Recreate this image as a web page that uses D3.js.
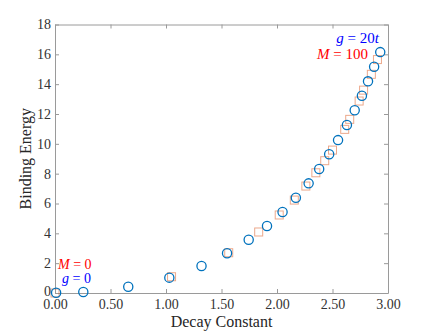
<!DOCTYPE html>
<html><head><meta charset="utf-8">
<script src="https://cdn.jsdelivr.net/npm/d3@7"></script>
<style>body{margin:0;background:#fff}svg{display:block}</style>
</head><body><svg id="c" width="429" height="332"></svg>
<script>
const circleX = [0.01,0.255,0.66,1.03,1.32,1.55,1.745,1.91,2.05,2.17,2.285,2.38,2.47,2.55,2.63,2.70,2.765,2.82,2.875,2.93];
const circleY = [0.02,0.07,0.42,1.03,1.81,2.66,3.57,4.49,5.43,6.39,7.35,8.31,9.30,10.25,11.26,12.25,13.22,14.19,15.17,16.15];
const squareX = [0.0,1.05,1.565,1.835,2.02,2.156,2.26,2.35,2.43,2.50,2.61,2.655,2.74,2.78,2.85,2.905];
const squareY = [0.0,1.09,2.70,4.09,5.23,6.23,7.17,8.06,8.87,9.58,10.97,11.64,12.87,13.6,14.66,15.65];
const xTicks = [0,0.5,1,1.5,2,2.5,3];
const yTicks = [0,2,4,6,8,10,12,14,16,18];
const xLabel = "Decay Constant", yLabel = "Binding Energy";

const svg = d3.select("#c");
const L=55,R=388,T=24.5,B=293;
const x = d3.scaleLinear().domain([0,3]).range([L,R]);
const y = d3.scaleLinear().domain([0,18]).range([B,T]);
const font = "'Liberation Serif','DejaVu Serif',serif";
const axCol = "#9a9a9a", txtCol = "#333";

function style(g){
  g.attr("font-family",null).attr("font-size",null);
  g.select(".domain").attr("stroke",axCol);
  g.selectAll(".tick line").attr("stroke",axCol);
  g.selectAll(".tick text").attr("fill",txtCol).style("font-family",font).style("font-size","14px");
}
svg.append("g").attr("transform",`translate(0,${B})`)
  .call(d3.axisBottom(x).tickValues(xTicks).tickFormat(d3.format(".2f")).tickSizeInner(-4).tickSizeOuter(0).tickPadding(6))
  .call(style);
svg.append("g").attr("transform",`translate(0,${T})`)
  .call(d3.axisTop(x).tickValues(xTicks).tickFormat("").tickSizeInner(-4).tickSizeOuter(0))
  .call(style);
svg.append("g").attr("transform",`translate(${L},0)`)
  .call(d3.axisLeft(y).tickValues(yTicks).tickSizeInner(-4).tickSizeOuter(0).tickPadding(4))
  .call(style)
  .selectAll(".tick text").filter(d=>d===0).attr("dy","0.15em");
svg.append("g").attr("transform",`translate(${R},0)`)
  .call(d3.axisRight(y).tickValues(yTicks).tickFormat("").tickSizeInner(-4).tickSizeOuter(0))
  .call(style);

// squares
const s = 8;
svg.append("g").selectAll("rect").data(squareX.map((d,i)=>[d,squareY[i]])).join("rect")
  .attr("x",d=>x(d[0])-s/2).attr("y",d=>y(d[1])-s/2).attr("width",s).attr("height",s)
  .attr("fill","none").attr("stroke","#D95319").attr("stroke-opacity",0.5).attr("stroke-width",1);
// circles
svg.append("g").selectAll("circle").data(circleX.map((d,i)=>[d,circleY[i]])).join("circle")
  .attr("cx",d=>x(d[0])).attr("cy",d=>y(d[1])).attr("r",4.6)
  .attr("fill","none").attr("stroke","#0072BD").attr("stroke-width",1.3);

// axis titles
svg.append("text").attr("x",(L+R)/2).attr("y",327).attr("text-anchor","middle")
  .style("font-family",font).style("font-size","16px").attr("fill","#262626").text(xLabel);
svg.append("text").attr("transform",`translate(31,${(T+B)/2}) rotate(-90)`).attr("text-anchor","middle")
  .style("font-family",font).style("font-size","16px").attr("fill","#262626").text(yLabel);

// annotations
function mathText(xp,yp,anchor,color,parts,fs){
  const t = svg.append("text").attr("x",xp).attr("y",yp).attr("text-anchor",anchor)
    .style("font-family",font).style("font-size",fs).attr("fill",color);
  parts.forEach(p=>t.append("tspan").attr("font-style",p[1]?"italic":"normal").text(p[0]));
}
mathText(379,43,"end","#0000ff",[["g",1],[" = 20",0],["t",1]],"15px");
mathText(368,59,"end","#ff0000",[["M",1],[" = 100",0]],"15px");
mathText(58,269,"start","#ff0000",[["M",1],[" = 0",0]],"14px");
mathText(62,283,"start","#0000ff",[["g",1],[" = 0",0]],"14px");
</script></body></html>
